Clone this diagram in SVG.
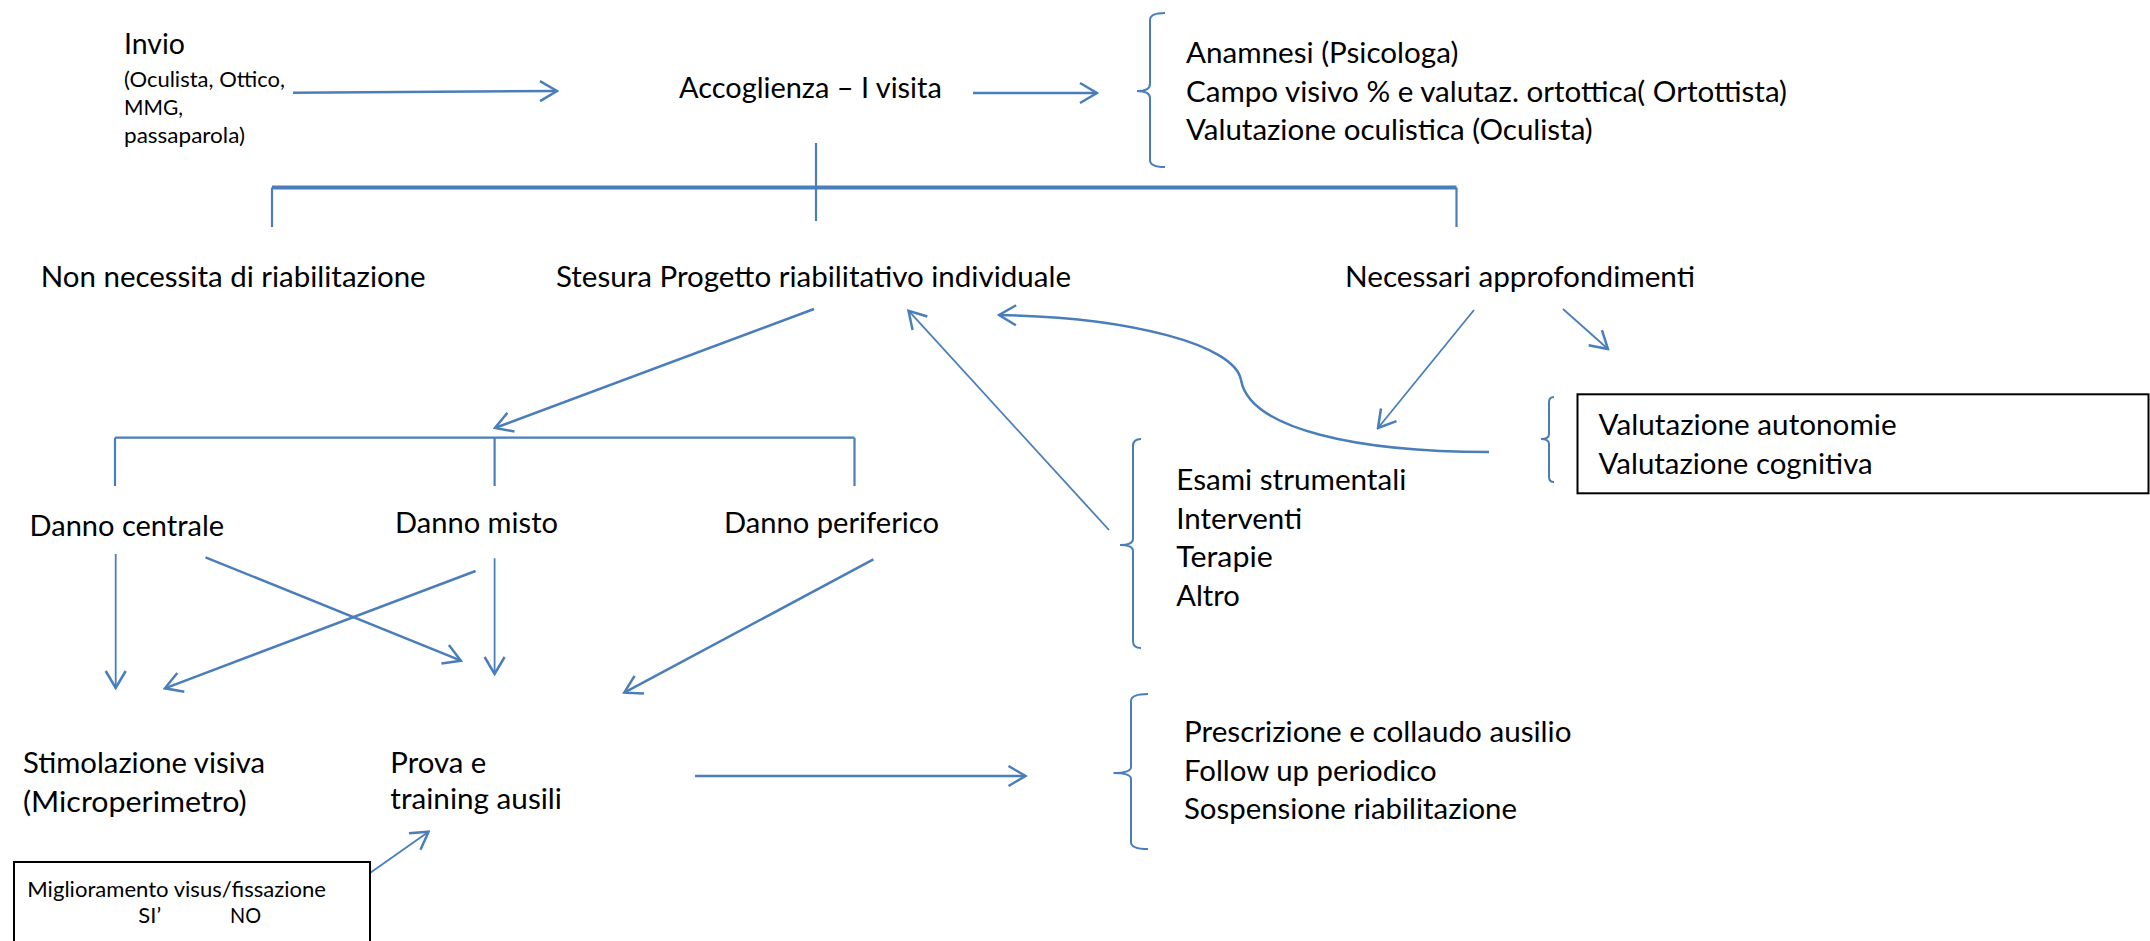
<svg xmlns="http://www.w3.org/2000/svg" width="2150" height="941" viewBox="0 0 2150 941">
<style>
.t{font-family:Lato,"Open Sans","Liberation Sans",sans-serif;font-size:28.5px;fill:#000}
.s{font-family:Lato,"Open Sans","Liberation Sans",sans-serif;font-size:21.5px;fill:#000}
.ln{fill:none;stroke:#4a7ebb;stroke-width:2.2}
.ar{fill:none;stroke:#4a7ebb;stroke-width:2.5;marker-end:url(#ah)}
.ar2{fill:none;stroke:#4a7ebb;stroke-width:1.8;marker-end:url(#ah)}
.br{fill:none;stroke:#4a7ebb;stroke-width:2}
.box{fill:#fff;stroke:#000;stroke-width:2}
</style>
<defs>
<marker id="ah" markerUnits="userSpaceOnUse" viewBox="-20 -12 22 24" refX="0" refY="0" markerWidth="22" markerHeight="24" orient="auto">
<path d="M-17,-10 L0,0 L-17,10" fill="none" stroke="#4a7ebb" stroke-width="2.5"/>
</marker>
</defs>
<rect width="2150" height="941" fill="#fff"/>

<g id="connectors">
<path class="ar" d="M293,92.7 L557,91"/>
<path class="ar" d="M973,93 L1097,93"/>
<path class="ln" d="M816,143 L816,221"/>
<path class="ln" style="stroke-width:4" d="M272,187.5 L1456.5,187.5"/>
<path class="ln" d="M272,187.5 L272,227 M1456.5,187.5 L1456.5,227"/>
<path class="ar" d="M814,309 L495,428"/>
<path class="ar2" d="M1109,530 L908.5,310.7"/>
<path class="ar" d="M1489,452 C1360,452 1250,430 1241,380 C1235,345 1130,317 999,315"/>
<path class="ar2" d="M1474,310 L1378,428"/>
<path class="ar2" d="M1563,309 L1608,349"/>
<path class="ln" d="M115,437.7 L854.5,437.7 M115,437.7 L115,486 M494.6,437.7 L494.6,486 M854.5,437.7 L854.5,486"/>
<path class="ar2" d="M115.7,554 L115.7,688"/>
<path class="ar" d="M205.5,557.3 L460.9,660.7"/>
<path class="ar" d="M475.6,571 L164.9,688.3"/>
<path class="ar2" d="M494.6,558.3 L494.6,674"/>
<path class="ar" d="M873.4,559.3 L624.3,692.7"/>
<path class="ar" d="M695,776 L1025.5,776"/>
<path class="ar2" d="M370,873 L428.6,831.7"/>
</g>

<g id="braces">
<path class="br" d="M1165,13 Q1150,13 1150,20 L1150,84 Q1150,91 1137,91 Q1150,91 1150,98 L1150,160 Q1150,167 1165,167"/>
<path class="br" d="M1554,397 Q1549,397 1549,402 L1549,434 Q1549,439 1541,439 Q1549,439 1549,444 L1549,477 Q1549,482 1554,482"/>
<path class="br" d="M1141,439 Q1133,439 1133,446 L1133,539 Q1133,545 1120,545 Q1133,545 1133,551 L1133,641 Q1133,648 1141,648"/>
<path class="br" d="M1148,694 Q1131,694 1131,701 L1131,767 Q1131,773 1113.5,773 Q1131,773 1131,779 L1131,842 Q1131,849 1148,849"/>
</g>

<g id="invio">
<text class="t" x="124" y="54" textLength="61" lengthAdjust="spacingAndGlyphs">Invio</text>
<text class="s" x="124" y="86.5" textLength="161" lengthAdjust="spacingAndGlyphs">(Oculista, Ottico,</text>
<text class="s" x="124" y="114.5" textLength="59" lengthAdjust="spacingAndGlyphs">MMG,</text>
<text class="s" x="124" y="142.5" textLength="121" lengthAdjust="spacingAndGlyphs">passaparola)</text>
</g>
<g id="accoglienza">
<text class="t" x="679" y="98.3" textLength="262.8" lengthAdjust="spacingAndGlyphs">Accoglienza – I visita</text>
</g>
<g id="prima-visita">
<text class="t" x="1186" y="63" textLength="272.3" lengthAdjust="spacingAndGlyphs">Anamnesi (Psicologa)</text>
<text class="t" x="1186" y="101.5" textLength="601" lengthAdjust="spacingAndGlyphs">Campo visivo % e valutaz. ortottica( Ortottista)</text>
<text class="t" x="1186" y="140" textLength="406.7" lengthAdjust="spacingAndGlyphs">Valutazione oculistica (Oculista)</text>
</g>
<g id="non-necessita">
<text class="t" x="40.7" y="286.7" textLength="385" lengthAdjust="spacingAndGlyphs">Non necessita di riabilitazione</text>
</g>
<g id="stesura">
<text class="t" x="556" y="286.7" textLength="515" lengthAdjust="spacingAndGlyphs">Stesura Progetto riabilitativo individuale</text>
</g>
<g id="necessari">
<text class="t" x="1345" y="286.7" textLength="350" lengthAdjust="spacingAndGlyphs">Necessari approfondimenti</text>
</g>
<g id="valutazione">
<rect class="box" x="1577.5" y="394.3" width="571" height="99"/>
<text class="t" x="1598.6" y="434.5" textLength="298" lengthAdjust="spacingAndGlyphs">Valutazione autonomie</text>
<text class="t" x="1598.6" y="473.5" textLength="274" lengthAdjust="spacingAndGlyphs">Valutazione cognitiva</text>
</g>
<g id="esami">
<text class="t" x="1176.3" y="490" textLength="230" lengthAdjust="spacingAndGlyphs">Esami strumentali</text>
<text class="t" x="1176.3" y="528.5" textLength="126" lengthAdjust="spacingAndGlyphs">Interventi</text>
<text class="t" x="1176.3" y="567" textLength="96.5" lengthAdjust="spacingAndGlyphs">Terapie</text>
<text class="t" x="1176.3" y="605.5" textLength="63.6" lengthAdjust="spacingAndGlyphs">Altro</text>
</g>
<g id="danno-centrale">
<text class="t" x="29.5" y="536" textLength="194.7" lengthAdjust="spacingAndGlyphs">Danno centrale</text>
</g>
<g id="danno-misto">
<text class="t" x="395" y="532.7" textLength="163" lengthAdjust="spacingAndGlyphs">Danno misto</text>
</g>
<g id="danno-periferico">
<text class="t" x="724" y="532.7" textLength="215" lengthAdjust="spacingAndGlyphs">Danno periferico</text>
</g>
<g id="stimolazione">
<text class="t" x="23" y="773.3" textLength="242" lengthAdjust="spacingAndGlyphs">Stimolazione visiva</text>
<text class="t" x="23" y="811.7" textLength="223.6" lengthAdjust="spacingAndGlyphs">(Microperimetro)</text>
</g>
<g id="prova">
<text class="t" x="390.3" y="772.7" textLength="96" lengthAdjust="spacingAndGlyphs">Prova e</text>
<text class="t" x="390.3" y="809.3" textLength="171.7" lengthAdjust="spacingAndGlyphs">training ausili</text>
</g>
<g id="esiti">
<text class="t" x="1184" y="742" textLength="387.5" lengthAdjust="spacingAndGlyphs">Prescrizione e collaudo ausilio</text>
<text class="t" x="1184" y="780.5" textLength="252.6" lengthAdjust="spacingAndGlyphs">Follow up periodico</text>
<text class="t" x="1184" y="819" textLength="333" lengthAdjust="spacingAndGlyphs">Sospensione riabilitazione</text>
</g>
<g id="miglioramento">
<rect class="box" x="14" y="862" width="356" height="100"/>
<text class="s" x="27.3" y="896.5" textLength="298.7" lengthAdjust="spacingAndGlyphs">Miglioramento visus/fissazione</text>
<text class="s" x="138.3" y="923" textLength="22.8" lengthAdjust="spacingAndGlyphs">SI’</text>
<text class="s" x="230" y="923" textLength="31" lengthAdjust="spacingAndGlyphs">NO</text>
</g>
</svg>
